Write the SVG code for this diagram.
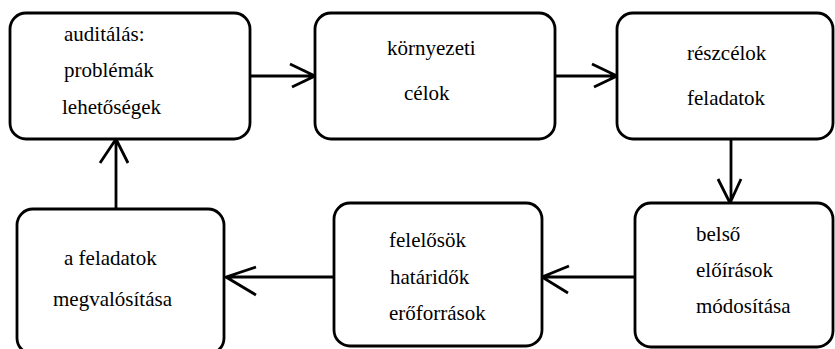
<svg xmlns="http://www.w3.org/2000/svg" width="835" height="349" viewBox="0 0 835 349">
<style>
.box{fill:#fff;stroke:#000;stroke-width:2.8}
.t{font-size:21px;fill:#000}
.c{fill:none;stroke:#000;stroke-width:2.8}
</style>
<rect width="835" height="349" fill="#fff"/>
<g id="connectors">
<path class="c" d="M250 76H315M290 64L315 76L292 87"/>
<path class="c" d="M555 76H617M592 64L617 76L594 87"/>
<path class="c" d="M731 139V203M718 179L730 203L741 179"/>
<path class="c" d="M635 277H542M569 266L542 277L568 293"/>
<path class="c" d="M334 277H226M256 267L226 277L256 295"/>
<path class="c" d="M116 209V139M100 163L116 139L128 163"/>
</g>
<g font-family="Liberation Serif, Times New Roman, serif">
<g id="n1"><rect class="box" x="10" y="13" width="240" height="126" rx="16"/>
<text class="t" x="64" y="41">auditálás:</text>
<text class="t" x="64" y="77">problémák</text>
<text class="t" x="62" y="114">lehetőségek</text></g>
<g id="n2"><rect class="box" x="315" y="13" width="240" height="126" rx="16"/>
<text class="t" x="387" y="55">környezeti</text>
<text class="t" x="404" y="100">célok</text></g>
<g id="n3"><rect class="box" x="617" y="13" width="216" height="126" rx="16"/>
<text class="t" x="687" y="60">részcélok</text>
<text class="t" x="687" y="105">feladatok</text></g>
<g id="n4"><rect class="box" x="635" y="203" width="198" height="144" rx="16"/>
<text class="t" x="696" y="241">belső</text>
<text class="t" x="696" y="277">előírások</text>
<text class="t" x="696" y="313">módosítása</text></g>
<g id="n5"><rect class="box" x="334" y="203" width="208" height="143" rx="16"/>
<text class="t" x="389" y="247">felelősök</text>
<text class="t" x="390" y="284">határidők</text>
<text class="t" x="389" y="320">erőforrások</text></g>
<g id="n6"><rect class="box" x="17" y="209" width="207" height="145" rx="16"/>
<text class="t" x="64" y="265">a feladatok</text>
<text class="t" x="53" y="306">megvalósítása</text></g>
</g>
</svg>
